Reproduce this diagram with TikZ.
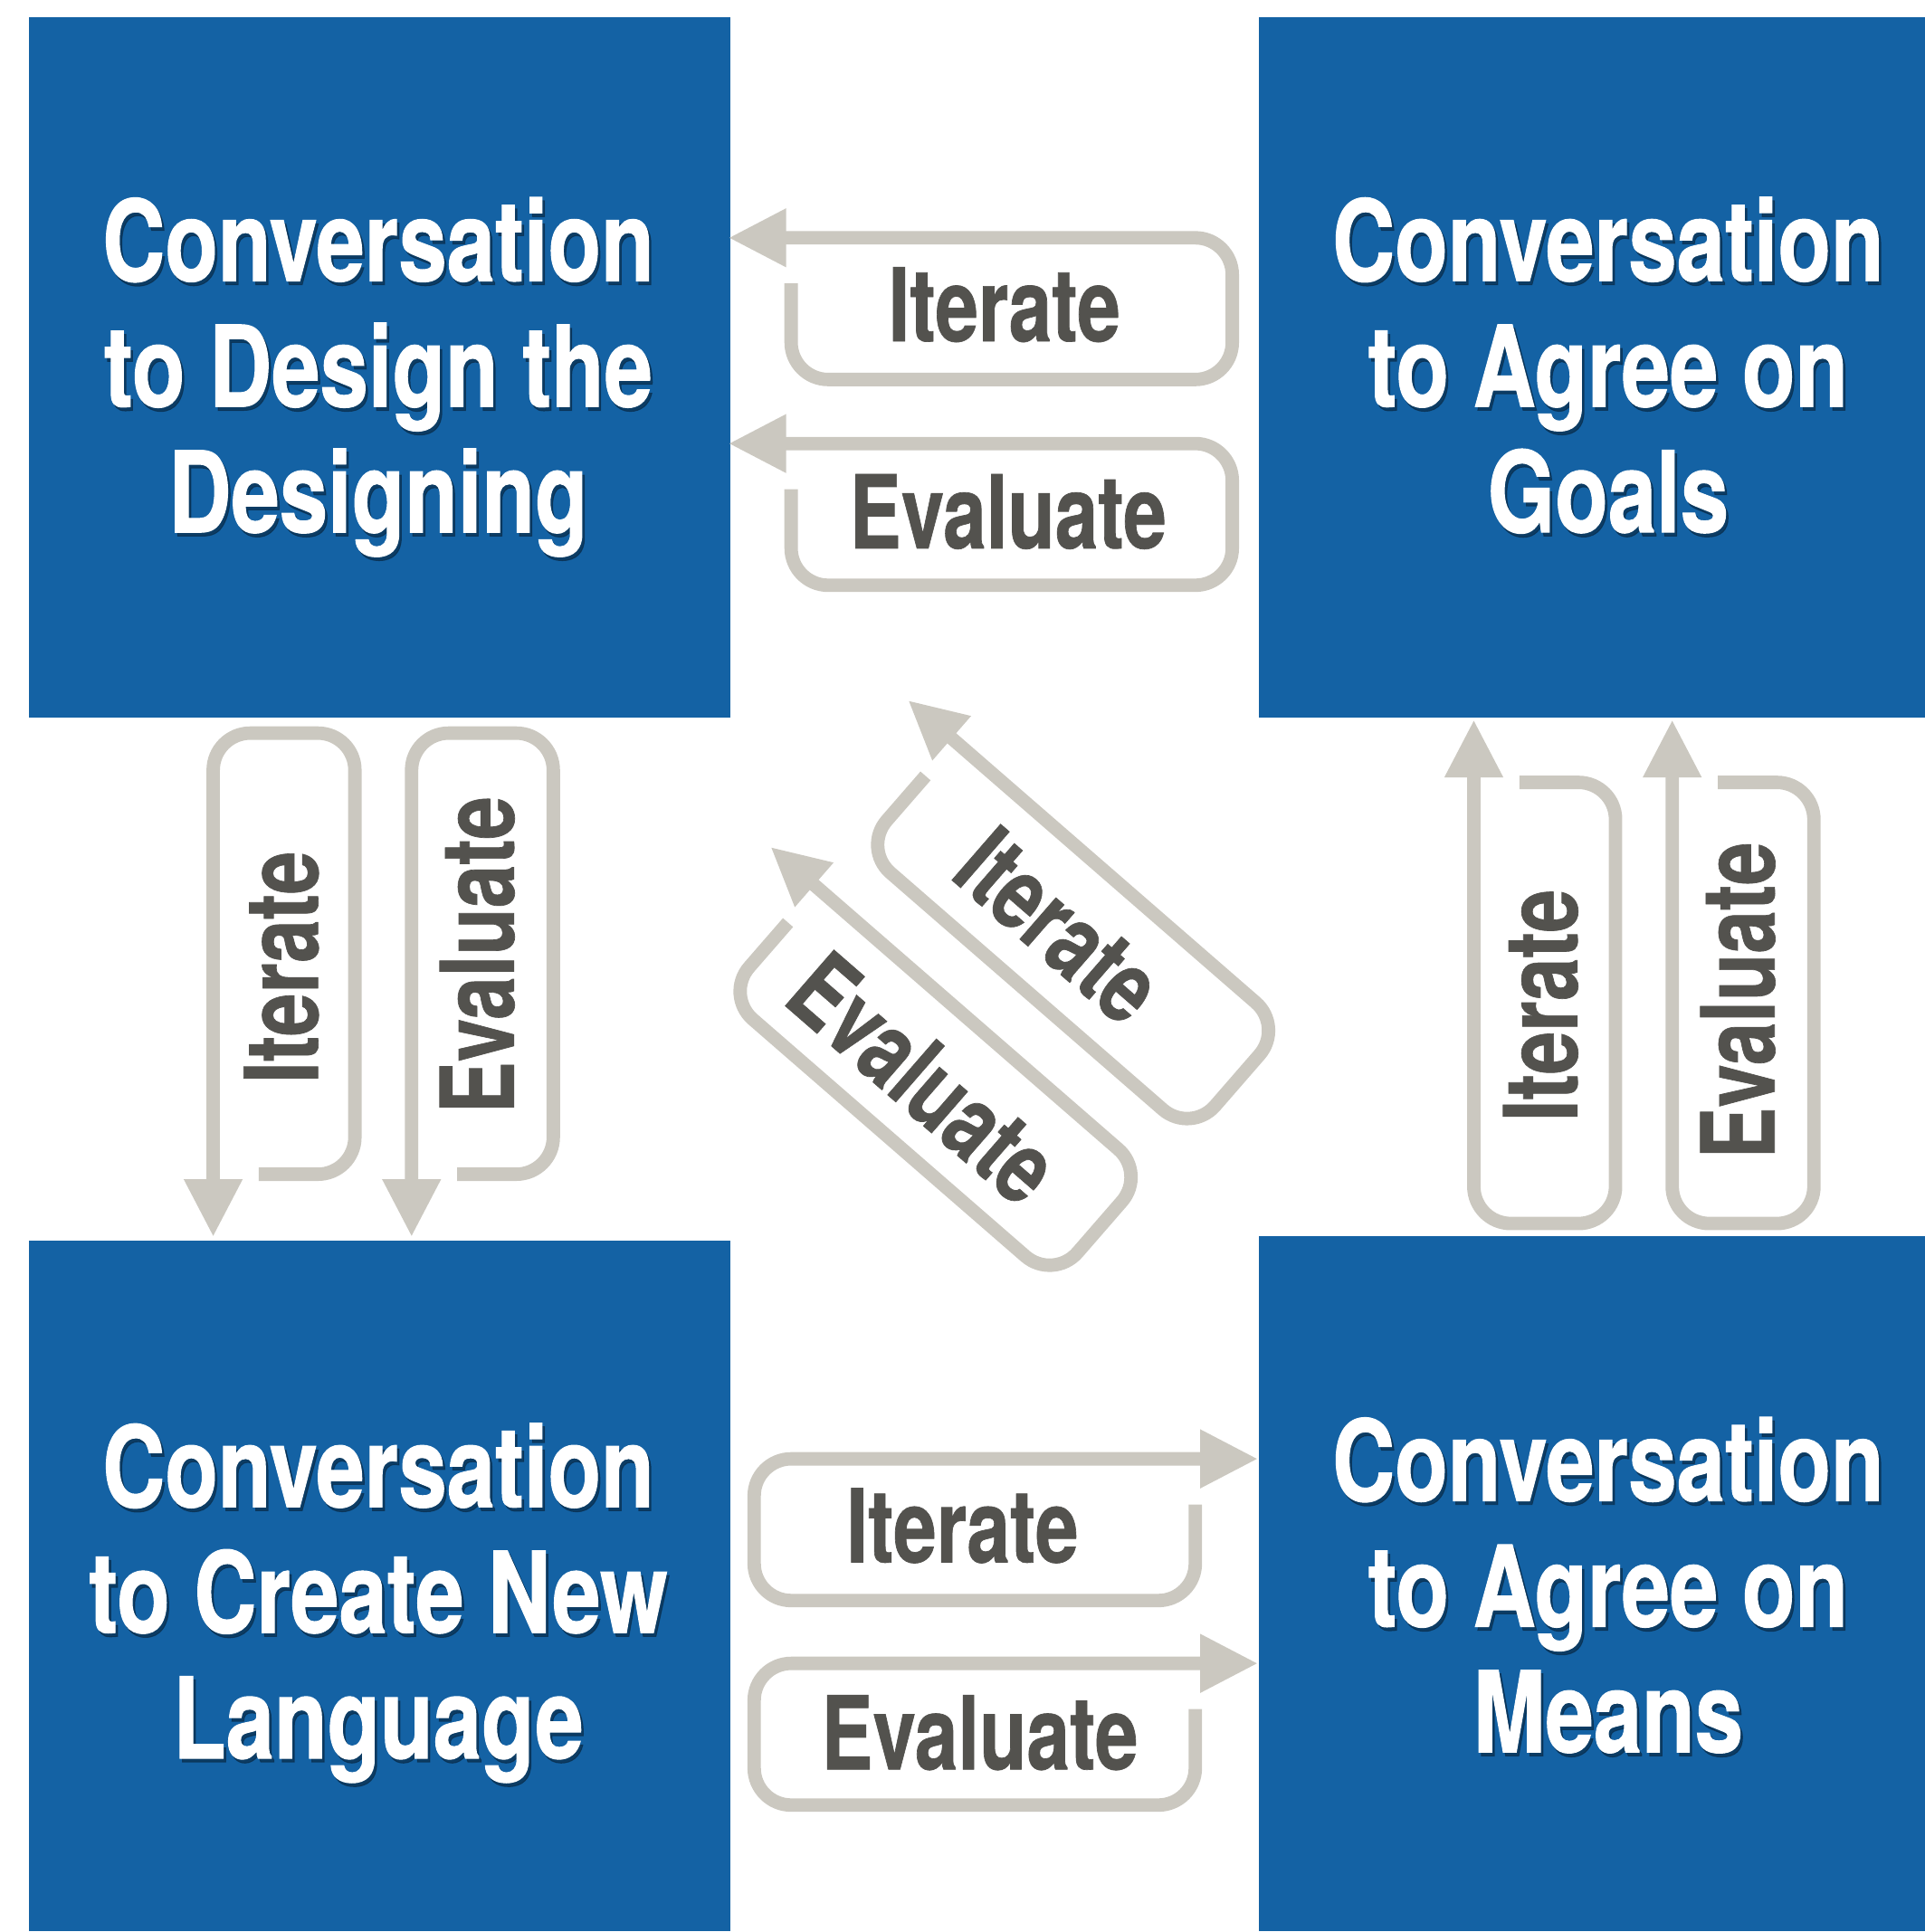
\documentclass[tikz,border=0pt]{standalone}
\usepackage{fontspec}
\newfontfamily\condfont[FakeStretch=0.77, BoldFeatures={FakeBold=0.8}]{TeX Gyre Heros}
\newfontfamily\labelfont[FakeStretch=0.76, BoldFeatures={FakeBold=0.6}]{TeX Gyre Heros}
\usepackage{tikz}

\definecolor{boxblue}{RGB}{20,98,164}
\definecolor{loopgray}{RGB}{203,200,192}
\definecolor{labelgray}{RGB}{83,82,78}

\tikzset{
  convbox/.style={fill=boxblue, draw=none, inner sep=0pt, anchor=south west},
  boxtext/.style={font=\condfont\bfseries\fontsize{26}{29}\selectfont, text=white, align=center},
  boxshadow/.style={boxtext, text=boxblue!45!black, opacity=0.7},
  loopline/.style={draw=loopgray, line width=3.1pt, rounded corners=0.3cm},
  looplabel/.style={font=\labelfont\bfseries\fontsize{23.5}{26}\selectfont, text=labelgray, inner sep=0pt}
}

\begin{document}
\begin{tikzpicture}[x=0.01cm, y=0.01cm]
\useasboundingbox (0,0) rectangle (1562,1568);

% Draw the four conversation boxes
\node[convbox, minimum width=5.69cm, minimum height=5.68cm] (design) at (23,985) {};
\node[convbox, minimum width=5.41cm, minimum height=5.68cm] (goals) at (1021,985) {};
\node[convbox, minimum width=5.69cm, minimum height=5.60cm] (language) at (23,0) {};
\node[convbox, minimum width=5.41cm, minimum height=5.64cm] (means) at (1021,0) {};

% Box texts (with drop shadow)
\node[boxshadow] at (309,1259) {Conversation\\to Design the\\Designing};
\node[boxtext] (design-txt) at (307,1262) {Conversation\\to Design the\\Designing};
\node[boxshadow] at (1307,1268.5) {Conversation\\to Agree on\\Goals};
\node[boxtext] (goals-txt) at (1305,1271.5) {Conversation\\to Agree on\\Goals};
\node[boxshadow] at (309,264) {Conversation\\to Create New\\Language};
\node[boxtext] (language-txt) at (307,267) {Conversation\\to Create New\\Language};
\node[boxshadow] at (1307,278.5) {Conversation\\to Agree on\\Means};
\node[boxtext] (means-txt) at (1305,281.5) {Conversation\\to Agree on\\Means};

% Loop arrows: tip x / tip y / rotation / mirror / length
\foreach \px/\py/\ang/\flip/\len in {
    592/1375/0/1/408, 592/1208/0/1/408,
    173/565/90/1/408, 334/565/90/1/408,
    1196/983/-90/-1/408, 1357/983/-90/-1/408,
    1020/384/180/-1/408, 1020/218/180/-1/408,
    737.6/999/-41/1/403, 626/880/-41/1/403}
{
  \begin{scope}[shift={(\px,\py)}, rotate=\ang, yscale=\flip]
    \draw[loopline] (50,-37) -- (50,-115) -- (\len,-115) -- (\len,0) -- (40,0);
    \fill[loopgray] (0,0) -- (46,24) -- (46,-24) -- cycle;
  \end{scope}
}

% Loop labels
\node[looplabel, anchor=base] (it-top) at (815,1291) {Iterate};
\node[looplabel, anchor=base] (ev-top) at (818,1123) {Evaluate};
\node[looplabel, anchor=base] (it-bot) at (781,300) {Iterate};
\node[looplabel, anchor=base] (ev-bot) at (795,132) {Evaluate};
\node[looplabel, anchor=base, rotate=90] (it-left) at (258,783) {Iterate};
\node[looplabel, anchor=base, rotate=90] (ev-left) at (417,793) {Evaluate};
\node[looplabel, anchor=base, rotate=90] (it-right) at (1280,752) {Iterate};
\node[looplabel, anchor=base, rotate=90] (ev-right) at (1440,756) {Evaluate};
\node[looplabel, rotate=-41] (it-diag) at (860,817) {Iterate};
\node[looplabel, rotate=-41] (ev-diag) at (750,693) {Evaluate};

\end{tikzpicture}
\end{document}
